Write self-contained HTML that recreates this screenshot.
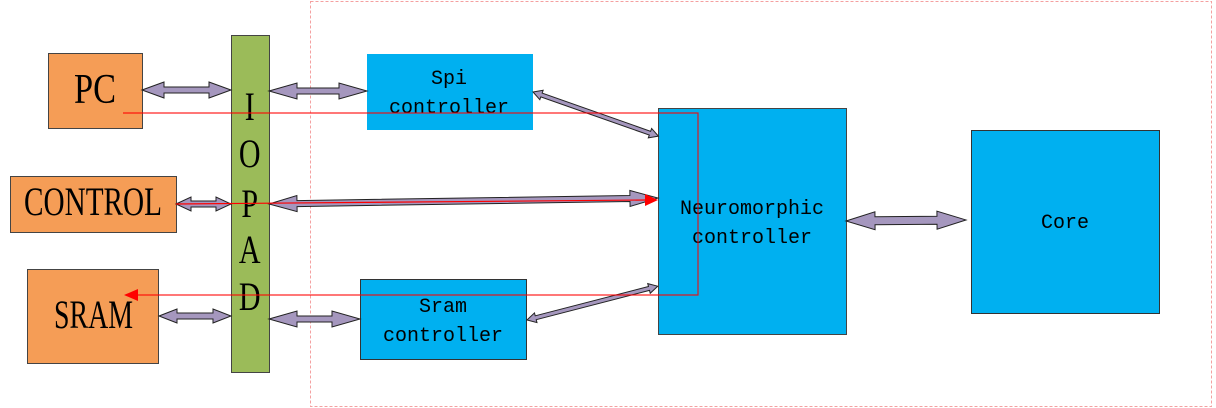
<!DOCTYPE html>
<html><head><meta charset="utf-8"><style>
html,body{margin:0;padding:0;background:#fff;width:1216px;height:408px;overflow:hidden}
.s{font-family:"Liberation Serif",serif;fill:#000}
.m{font-family:"Liberation Mono",monospace;fill:#000;font-size:20px}
.a{fill:#A597BE;stroke:#222;stroke-width:1}
</style></head><body>
<svg width="1216" height="408" xmlns="http://www.w3.org/2000/svg">
<rect x="310.5" y="1.5" width="901" height="405" fill="none" stroke="#F4A0A0" stroke-width="1" stroke-dasharray="3,2"/>
<rect x="48.5" y="53.5" width="94" height="75" fill="#F59D56" stroke="#444"/>
<text x="74" y="103" class="s" font-size="42" textLength="42" lengthAdjust="spacingAndGlyphs">PC</text>
<rect x="10.5" y="176.5" width="166" height="56" fill="#F59D56" stroke="#444"/>
<text x="24" y="215" class="s" font-size="40" textLength="138" lengthAdjust="spacingAndGlyphs">CONTROL</text>
<rect x="27.5" y="269.5" width="131" height="94" fill="#F59D56" stroke="#444"/>
<text x="54" y="328" class="s" font-size="40" textLength="79" lengthAdjust="spacingAndGlyphs">SRAM</text>
<rect x="231.5" y="35.5" width="38" height="337" fill="#9BBB59" stroke="#444"/>
<g class="s" font-size="40" text-anchor="middle" transform="scale(0.75,1)">
<text x="333" y="120">I</text><text x="333" y="167">O</text><text x="333" y="217">P</text><text x="333" y="263">A</text><text x="333" y="310">D</text>
</g>
<rect x="367" y="54" width="166" height="76" fill="#00B0F0"/>
<text x="449" y="84" class="m" text-anchor="middle">Spi</text>
<text x="449" y="113" class="m" text-anchor="middle">controller</text>
<rect x="360.5" y="279.5" width="166" height="80" fill="#00B0F0" stroke="#333"/>
<text x="443" y="312" class="m" text-anchor="middle">Sram</text>
<text x="443" y="341" class="m" text-anchor="middle">controller</text>
<rect x="658.5" y="108.5" width="188" height="226" fill="#00B0F0" stroke="#444"/>
<text x="752" y="214" class="m" text-anchor="middle">Neuromorphic</text>
<text x="752" y="243" class="m" text-anchor="middle">controller</text>
<rect x="971.5" y="130.5" width="188" height="183" fill="#00B0F0" stroke="#333"/>
<text x="1065" y="228" class="m" text-anchor="middle">Core</text>

<g transform="translate(142,90)"><polygon class="a" points="0,0 22,-8 22,-3 67,-3 67,-8 89,0 67,8 67,3 22,3 22,8"/></g>
<g transform="translate(269,91)"><polygon class="a" points="0,0 28,-8 28,-3 70,-3 70,-8 98,0 70,8 70,3 28,3 28,8"/></g>
<g transform="translate(176,204)"><polygon class="a" points="0,0 15,-7 15,-3 40,-3 40,-7 55,0 40,7 40,3 15,3 15,7"/></g>
<g transform="translate(269,204) rotate(-0.88)"><polygon class="a" points="0,0 28,-8 28,-3 361,-3 361,-8 389,0 361,8 361,3 28,3 28,8"/></g>
<g transform="translate(159,316)"><polygon class="a" points="0,0 18,-7 18,-3 54,-3 54,-7 72,0 54,7 54,3 18,3 18,7"/></g>
<g transform="translate(269,319)"><polygon class="a" points="0,0 28,-8 28,-3 63,-3 63,-8 91,0 63,8 63,3 28,3 28,8"/></g>
<g transform="translate(533,92) rotate(19.4)"><polygon class="a" points="0,0 9,-5 9,-2 124,-2 124,-5 133,0 124,5 124,2 9,2 9,5"/></g>
<g transform="translate(527,320) rotate(-14.5)"><polygon class="a" points="0,0 9,-5 9,-2 126,-2 126,-5 135,0 126,5 126,2 9,2 9,5"/></g>
<g transform="translate(846,221) rotate(-0.5)"><polygon class="a" points="0,0 29,-9 29,-4 91,-4 91,-9 120,0 91,9 91,4 29,4 29,9"/></g>

<polyline points="123,113 698,113 698,295 138,295" fill="none" stroke="#F00" stroke-width="1.2" opacity="0.85"/>
<polygon points="124,295 138,289 138,301" fill="#F00"/>
<line x1="176" y1="204" x2="646" y2="200" stroke="#F00" stroke-width="1.2"/>
<polygon points="658,200 645,194 645,206" fill="#F00"/>
</svg>
</body></html>
